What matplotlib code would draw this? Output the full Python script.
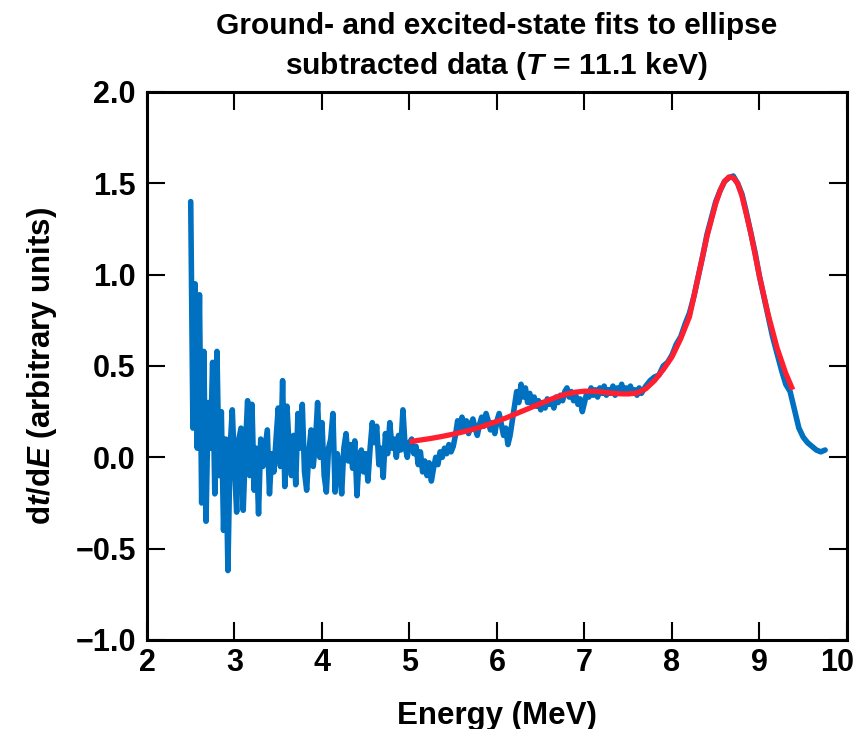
import numpy as np
import matplotlib
matplotlib.use("Agg")
import matplotlib.pyplot as plt
import matplotlib.transforms as mtransforms

plt.rcParams['font.family'] = ['Liberation Sans', 'DejaVu Sans']
plt.rcParams['font.weight'] = 'bold'
plt.rcParams['mathtext.fontset'] = 'custom'
plt.rcParams['mathtext.rm'] = 'Liberation Sans:bold'
plt.rcParams['mathtext.it'] = 'Liberation Sans:bold:italic'
plt.rcParams['mathtext.bf'] = 'Liberation Sans:bold'

# ---- data: measured spectrum, 2.5-7.7 MeV (0.025 MeV steps) ----
energy_fine = np.round(np.arange(2.50, 7.7001, 0.025), 3)
signal_fine = [
    # 2.500 - 2.975
    1.40, 0.16, 0.95, 0.05, 0.89, -0.25, 0.58, -0.35, 0.30, 0.05,
    0.52, -0.20, 0.58, -0.10, 0.25, -0.40, 0.10, -0.62, 0.05, 0.26,
    # 3.000 - 3.475
    -0.05, -0.30, 0.10, 0.16, -0.29, 0.05, 0.31, -0.10, 0.29, -0.18,
    0.05, -0.31, 0.10, -0.05, 0.05, 0.15, -0.20, 0.02, -0.08, 0.10,
    # 3.500 - 3.975
    0.27, -0.05, 0.42, -0.16, 0.28, 0.05, -0.10, 0.12, -0.15, 0.24,
    0.05, 0.29, -0.08, -0.18, 0.03, 0.15, -0.05, 0.08, 0.30, 0.00,
    # 4.000 - 4.475
    0.19, -0.10, -0.19, 0.05, 0.10, 0.24, -0.19, 0.02, -0.05, -0.20,
    0.05, 0.13, -0.02, 0.07, -0.06, 0.09, -0.21, 0.00, 0.04, -0.08,
    # 4.500 - 4.975
    0.02, -0.13, 0.05, 0.19, 0.08, 0.17, -0.04, 0.05, -0.11, 0.13,
    0.02, 0.19, 0.05, 0.10, 0.00, 0.12, 0.04, 0.26, 0.06, 0.00,
    # 5.000 - 5.475
    0.08, 0.10, 0.02, 0.06, -0.04, 0.03, -0.08, -0.02, -0.10, -0.03,
    -0.13, -0.06, 0.00, -0.04, 0.03, 0.00, 0.05, 0.02, 0.07, 0.03,
    # 5.500 - 5.975
    0.06, 0.12, 0.20, 0.14, 0.22, 0.15, 0.20, 0.13, 0.18, 0.21,
    0.16, 0.12, 0.18, 0.22, 0.17, 0.24, 0.20, 0.15, 0.19, 0.13,
    # 6.000 - 6.475
    0.20, 0.24, 0.18, 0.12, 0.16, 0.07, 0.12, 0.20, 0.28, 0.36,
    0.30, 0.40, 0.33, 0.38, 0.30, 0.35, 0.29, 0.33, 0.28, 0.31,
    # 6.500 - 6.975
    0.26, 0.30, 0.27, 0.32, 0.29, 0.31, 0.27, 0.33, 0.30, 0.34,
    0.31, 0.36, 0.38, 0.33, 0.36, 0.31, 0.34, 0.29, 0.32, 0.25,
    # 7.000 - 7.475
    0.30, 0.35, 0.33, 0.38, 0.34, 0.37, 0.33, 0.38, 0.35, 0.39,
    0.34, 0.37, 0.35, 0.39, 0.34, 0.38, 0.36, 0.40, 0.35, 0.38,
    # 7.500 - 7.700
    0.36, 0.39, 0.35, 0.37, 0.34, 0.38, 0.35, 0.37, 0.39,
]

# ---- data: measured spectrum, 7.75-9.75 MeV (0.05 MeV steps) ----
energy_peak = np.round(np.arange(7.75, 9.7501, 0.05), 3)
signal_peak = [
    0.42, 0.44, 0.45, 0.50, 0.52, 0.56, 0.62, 0.66, 0.73, 0.79,
    0.88, 0.99, 1.10, 1.22, 1.31, 1.40, 1.46, 1.51, 1.53, 1.54,
    1.50, 1.44, 1.34, 1.23, 1.12, 0.99, 0.88, 0.77, 0.66, 0.57,
    0.48, 0.40, 0.36, 0.26, 0.16, 0.11, 0.08, 0.06, 0.04, 0.03,
    0.04,
]

# ---- data: fit curve ----
fit_energy = [5.0, 5.1, 5.2, 5.3, 5.4, 5.5, 5.6, 5.7, 5.8, 5.9,
              6.0, 6.1, 6.2, 6.3, 6.4, 6.5, 6.6, 6.7, 6.8, 6.9,
              7.0, 7.1, 7.2, 7.3, 7.4, 7.5, 7.6, 7.7, 7.8, 7.9,
              8.0, 8.1, 8.2, 8.3, 8.4, 8.5, 8.55, 8.6, 8.65, 8.7,
              8.75, 8.8, 8.9, 9.0, 9.1, 9.2, 9.3, 9.38]
fit_values = [0.085, 0.093, 0.100, 0.108, 0.117, 0.127, 0.138, 0.150, 0.164, 0.180,
              0.197, 0.215, 0.235, 0.255, 0.275, 0.295, 0.315, 0.333, 0.347, 0.357,
              0.362, 0.362, 0.358, 0.352, 0.348, 0.347, 0.352, 0.375, 0.42, 0.48,
              0.55, 0.65, 0.77, 0.99, 1.21, 1.39, 1.46, 1.51, 1.535, 1.53,
              1.50, 1.43, 1.23, 0.99, 0.78, 0.60, 0.46, 0.37]

x_ticks = [2, 3, 4, 5, 6, 7, 8, 9, 10]
y_ticks = [-1.0, -0.5, 0.0, 0.5, 1.0, 1.5, 2.0]

energy = np.concatenate([energy_fine, energy_peak])
signal = np.array(signal_fine + signal_peak)

fig = plt.figure(figsize=(8.62, 7.29), dpi=100)
ax = fig.add_axes([0.1705, 0.1221, 0.8121, 0.7517])

ax.plot(energy, signal, color='#0070C0', lw=4.0, solid_joinstyle='round',
        solid_capstyle='round')
ax.plot(fit_energy, fit_values, color='#FF1F2F', lw=3.8, solid_capstyle='butt')

ax.set_xlim(2, 10)
ax.set_ylim(-1.0, 2.0)
ax.set_xticks(x_ticks)
ax.set_xticklabels([str(t) for t in x_ticks])
ax.set_yticks(y_ticks)
ax.set_yticklabels([f"{t:.1f}".replace('-', '\u2212') for t in y_ticks])

for s in ax.spines.values():
    s.set_linewidth(2.2)
ax.tick_params(axis='both', which='major', direction='in', length=13, width=1.5,
               top=True, right=True, labelsize=22)
ax.tick_params(axis='x', pad=6)
ax.tick_params(axis='y', pad=8)
xlabels = ax.get_xticklabels()
for lab in xlabels + ax.get_yticklabels():
    lab.set_fontweight('bold')
# keep the last x tick label ("10") inside the figure
shift = mtransforms.ScaledTranslation(-10 / 100, 0, fig.dpi_scale_trans)
xlabels[-1].set_transform(xlabels[-1].get_transform() + shift)

ax.set_xlabel('Energy (MeV)', fontsize=22.5, fontweight='bold', labelpad=16)
ax.set_ylabel(r'd$\it{t}$/d$\it{E}$ (arbitrary units)', fontsize=22.5,
              fontweight='bold', labelpad=12)
ax.set_title('Ground- and excited-state fits to ellipse\n'
             r'subtracted data ($\it{T}$ = 11.1 keV)',
             fontsize=21.5, fontweight='bold', linespacing=1.4, pad=13)

fig.savefig('out.png', dpi=100)
